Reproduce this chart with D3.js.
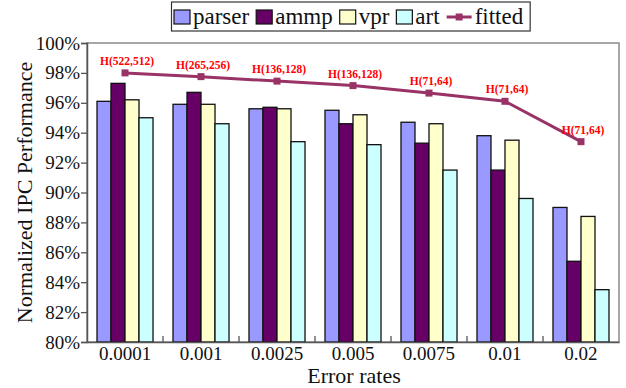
<!DOCTYPE html>
<html>
<head>
<meta charset="utf-8">
<script src="https://cdn.jsdelivr.net/npm/d3@7/dist/d3.min.js"></script>
<style>
  body { margin: 0; background: #fff; }
  svg text { font-family: "Liberation Serif", "Times New Roman", serif; }
</style>
</head>
<body>
<div id="chart"></div>
<script>
var categories = ["0.0001", "0.001", "0.0025", "0.005", "0.0075", "0.01", "0.02"];
var seriesNames = ["parser", "ammp", "vpr", "art"];
var parser = [96.1, 95.9, 95.6, 95.5, 94.7, 93.8, 89.0];
var ammp   = [97.3, 96.7, 95.7, 94.6, 93.3, 91.5, 85.4];
var vpr    = [96.2, 95.9, 95.6, 95.2, 94.6, 93.5, 88.4];
var art    = [95.0, 94.6, 93.4, 93.2, 91.5, 89.6, 83.5];
var fitted = [98.0, 97.75, 97.45, 97.15, 96.65, 96.1, 93.4];
var fittedLabels = ["H(522,512)", "H(265,256)", "H(136,128)", "H(136,128)", "H(71,64)", "H(71,64)", "H(71,64)"];
var yTicks = [80, 82, 84, 86, 88, 90, 92, 94, 96, 98, 100];

var seriesValues = [parser, ammp, vpr, art];
var colors = d3.scaleOrdinal()
    .domain(seriesNames)
    .range(["#9999ff", "#660066", "#ffffcc", "#ccffff"]);

var width = 626, height = 388;
var plotLeft = 87, plotRight = 619, plotTop = 43, plotBottom = 342;
var serif = "'Liberation Serif', 'Times New Roman', serif";

var svg = d3.select("#chart").append("svg")
    .attr("width", width).attr("height", height);
svg.append("rect").attr("width", width).attr("height", height).style("fill", "white");

var x = d3.scaleBand().domain(categories).range([plotLeft, plotRight])
    .paddingInner(0.263).paddingOuter(0.1316);
var xs = d3.scaleBand().domain(seriesNames).range([0, x.bandwidth()]);
var y = d3.scaleLinear().domain([80, 100]).range([plotBottom, plotTop]);

// plot frame
svg.append("rect")
    .attr("x", plotLeft).attr("y", plotTop)
    .attr("width", plotRight - plotLeft).attr("height", plotBottom - plotTop)
    .style("fill", "white").style("stroke", "#8a8a8a").style("stroke-width", 1.5);

// bars
var rows = categories.map(function(c, i) {
    return { cat: c, vals: seriesNames.map(function(s, j) { return { name: s, v: seriesValues[j][i] }; }) };
});
var groups = svg.selectAll("g.grp").data(rows).enter().append("g")
    .attr("class", "grp")
    .attr("transform", function(d) { return "translate(" + x(d.cat) + ",0)"; });
groups.selectAll("rect").data(function(d) { return d.vals; }).enter().append("rect")
    .attr("x", function(d) { return xs(d.name); })
    .attr("y", function(d) { return y(d.v); })
    .attr("width", xs.bandwidth())
    .attr("height", function(d) { return plotBottom - y(d.v); })
    .style("fill", function(d) { return colors(d.name); })
    .style("stroke", "#111")
    .style("stroke-width", 1.3);

// y axis
var yAxis = svg.append("g").attr("transform", "translate(" + plotLeft + ",0)")
    .call(d3.axisLeft(y).tickValues(yTicks).tickSize(6).tickPadding(1)
        .tickFormat(function(d) { return d + "%"; }));
yAxis.select(".domain").style("stroke", "#555").style("stroke-width", 1.5);
yAxis.selectAll(".tick line").style("stroke", "#555").style("stroke-width", 1.3);
yAxis.selectAll("text").style("font-size", "19px").style("fill", "#111").style("font-family", serif);

// x axis
var xAxis = svg.append("g").attr("transform", "translate(0," + plotBottom + ")")
    .call(d3.axisBottom(x).tickSize(0).tickPadding(4.5));
xAxis.select(".domain").style("stroke", "#555").style("stroke-width", 1.5);
xAxis.selectAll("text").style("font-size", "19px").style("fill", "#111").style("font-family", serif);

// separators between categories, pointing up into the plot
var step = x.step();
var seps = d3.range(1, categories.length).map(function(i) {
    return x(categories[i]) - step * x.paddingInner() / 2;
});
svg.selectAll("line.sep").data(seps).enter().append("line")
    .attr("class", "sep")
    .attr("x1", function(d) { return d; }).attr("x2", function(d) { return d; })
    .attr("y1", plotBottom).attr("y2", plotBottom - 6)
    .style("stroke", "#555").style("stroke-width", 1.3);

// fitted line
var cx = function(d, i) { return x(categories[i]) + x.bandwidth() / 2; };
var line = d3.line().x(cx).y(function(d) { return y(d); });
svg.append("path").datum(fitted)
    .attr("d", line)
    .style("fill", "none").style("stroke", "#993366").style("stroke-width", 3);
svg.selectAll("rect.mark").data(fitted).enter().append("rect")
    .attr("class", "mark")
    .attr("x", function(d, i) { return cx(d, i) - 3.5; })
    .attr("y", function(d) { return y(d) - 3.5; })
    .attr("width", 7).attr("height", 7)
    .style("fill", "#993366");
svg.selectAll("text.hl").data(fitted).enter().append("text")
    .attr("class", "hl")
    .attr("x", function(d, i) { return cx(d, i) + 2; })
    .attr("y", function(d) { return y(d) - 8; })
    .attr("text-anchor", "middle")
    .style("font-family", serif)
    .style("font-size", "11.5px").style("font-weight", "bold").style("fill", "#ff0000")
    .text(function(d, i) { return fittedLabels[i]; });

// axis titles
svg.append("text")
    .attr("transform", "translate(32," + ((plotTop + plotBottom) / 2) + ") rotate(-90)")
    .attr("text-anchor", "middle")
    .style("font-family", serif)
    .style("font-size", "22px").style("fill", "#111")
    .text("Normalized IPC Performance");
svg.append("text")
    .attr("x", 354).attr("y", 383)
    .attr("text-anchor", "middle")
    .style("font-family", serif)
    .style("font-size", "22px").style("fill", "#111")
    .text("Error rates");

// legend
var legend = svg.append("g");
var legendBox = legend.append("rect")
    .style("fill", "white").style("stroke", "#333").style("stroke-width", 1.2);
var lx = 174;
var legendItems = seriesNames.concat(["fitted"]);
legendItems.forEach(function(name) {
    if (name === "fitted") {
        legend.append("line").attr("x1", lx).attr("x2", lx + 25).attr("y1", 17).attr("y2", 17)
            .style("stroke", "#993366").style("stroke-width", 3);
        legend.append("rect").attr("x", lx + 9).attr("y", 13.5).attr("width", 7).attr("height", 7)
            .style("fill", "#993366");
        lx += 28;
    } else {
        legend.append("rect").attr("x", lx).attr("y", 10).attr("width", 16).attr("height", 14)
            .style("fill", colors(name)).style("stroke", "#111").style("stroke-width", 1.2);
        lx += 19;
    }
    var t = legend.append("text").attr("x", lx).attr("y", 24)
        .style("font-family", serif)
        .style("font-size", "23px").style("fill", "#111").text(name);
    lx += t.node().getComputedTextLength() + 7;
});
legendBox.attr("x", 171.5).attr("y", 2).attr("width", lx - 171.5).attr("height", 29);
</script>
</body>
</html>
